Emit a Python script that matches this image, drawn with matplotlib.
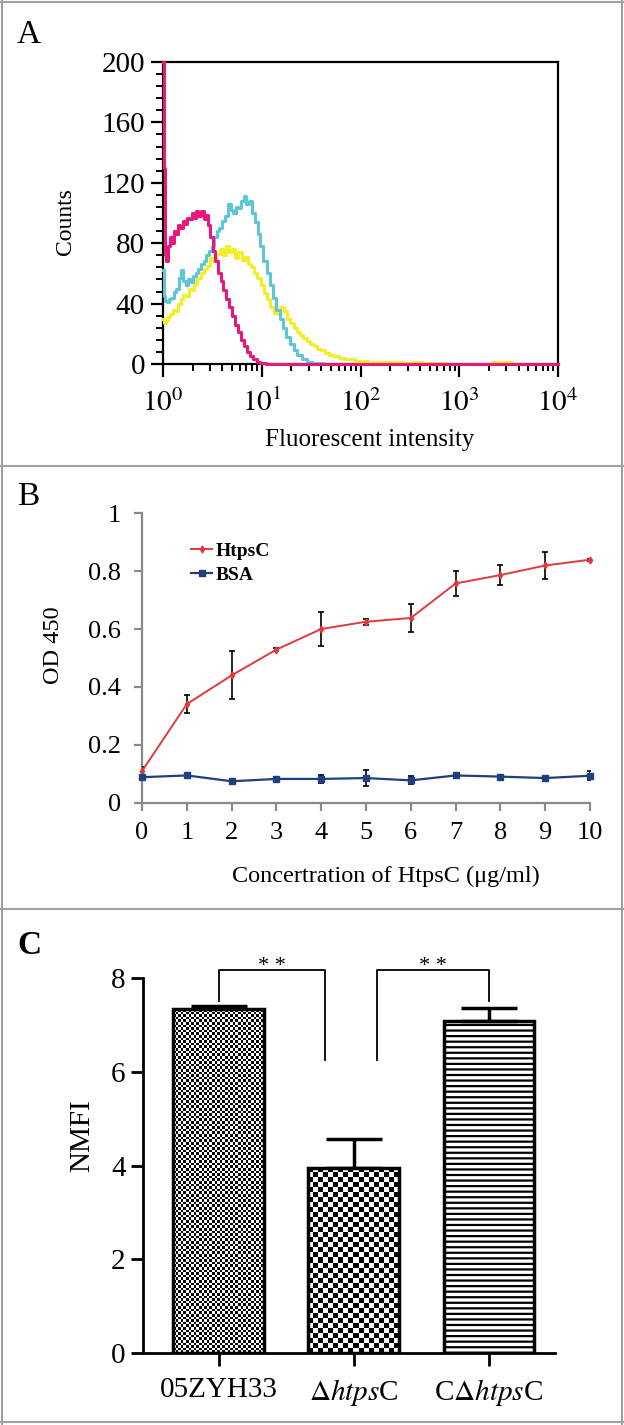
import numpy as np
import matplotlib
matplotlib.use("Agg")
import matplotlib.pyplot as plt
from matplotlib.ticker import MultipleLocator, LogLocator, NullFormatter, FuncFormatter
from matplotlib.lines import Line2D

plt.rcParams['font.family'] = ['Liberation Serif', 'DejaVu Serif']
plt.rcParams['mathtext.fontset'] = 'stix'
plt.rcParams['hatch.linewidth'] = 1.6

# ---- panel A: flow cytometry histograms ----
magenta_x = [1.0, 1.03, 1.06, 1.1, 1.15, 1.2, 1.26, 1.32, 1.39, 1.46, 1.54, 1.62, 1.7, 1.8, 1.9, 2.0,
             2.1, 2.2, 2.35, 2.5, 2.65, 2.8, 2.95, 3.1, 3.3, 3.5, 3.7, 3.95, 4.2, 4.5, 4.8, 5.1, 5.5,
             5.9, 6.3, 6.8, 7.3, 7.9, 8.5, 9.2, 10, 12, 20, 50, 100, 1000, 10000]
magenta_y = [200, 130, 72, 68, 78, 84, 80, 88, 86, 92, 90, 95, 93, 97, 96, 100, 97, 101, 98, 101, 96,
             99, 92, 84, 75, 68, 60, 55, 49, 43, 38, 32, 26, 21, 16, 12, 8, 5, 3, 1, 0.5, 0, 0, 0, 0, 0, 0]
cyan_x = [1.0, 1.03, 1.07, 1.12, 1.18, 1.25, 1.32, 1.4, 1.48, 1.56, 1.65, 1.75, 1.85, 1.96, 2.08, 2.2,
          2.35, 2.5, 2.65, 2.8, 3.0, 3.2, 3.4, 3.6, 3.85, 4.1, 4.4, 4.7, 5.0, 5.3, 5.6, 6.0, 6.4, 6.8,
          7.2, 7.7, 8.2, 8.8, 9.4, 10, 10.8, 11.6, 12.5, 13.5, 14.6, 15.8, 17, 18.5, 20, 22, 24, 27,
          30, 35, 50, 100, 10000]
cyan_y = [62, 45, 42, 41, 43, 44, 48, 50, 57, 62, 55, 52, 56, 54, 58, 60, 63, 66, 68, 72, 75, 78, 84,
          88, 90, 95, 98, 106, 102, 100, 104, 103, 108, 111, 106, 108, 100, 94, 86, 78, 68, 60, 52,
          44, 36, 30, 24, 18, 13, 9, 6, 3, 1.5, 0.5, 0, 0, 0]
yellow_x = [1.0, 1.04, 1.09, 1.15, 1.22, 1.3, 1.38, 1.47, 1.56, 1.66, 1.77, 1.88, 2.0, 2.15, 2.3, 2.5,
            2.7, 2.9, 3.1, 3.35, 3.6, 3.9, 4.2, 4.5, 4.85, 5.2, 5.6, 6.0, 6.5, 7.0, 7.5, 8.1, 8.7,
            9.4, 10.1, 10.9, 11.8, 12.7, 13.7, 14.8, 16, 17.3, 18.7, 20.2, 21.8, 23.5, 25.4, 27.4,
            29.6, 32, 35, 38, 42, 46, 51, 57, 64, 72, 82, 95, 110, 130, 160, 200, 250, 300, 380,
            450, 1000, 3300, 3500, 10000]
yellow_y = [30, 27, 29, 31, 33, 36, 35, 40, 43, 46, 45, 50, 49, 53, 57, 60, 63, 65, 70, 68, 73, 76, 72,
            78, 74, 76, 70, 74, 69, 71, 66, 64, 60, 57, 52, 47, 43, 38, 34, 33, 38, 35, 30, 27, 24,
            21, 19, 17, 15, 13, 12, 10, 9, 7, 6, 5, 4, 3, 3, 2, 2, 1.5, 1, 1, 1, 0.8, 1, 0.5, 0, 1,
            0, 0]

# ---- panel B: ELISA ----
conc = [0, 1, 2, 3, 4, 5, 6, 7, 8, 9, 10]
htpsc = [0.110, 0.341, 0.440, 0.529, 0.600, 0.625, 0.638, 0.757, 0.786, 0.819, 0.839]
htpsc_err = [0.015, 0.032, 0.083, 0.006, 0.058, 0.010, 0.048, 0.042, 0.033, 0.045, 0.003]
bsa = [0.089, 0.095, 0.075, 0.083, 0.083, 0.086, 0.078, 0.095, 0.091, 0.086, 0.094]
bsa_err = [0.005, 0.005, 0.004, 0.005, 0.013, 0.028, 0.014, 0.008, 0.004, 0.004, 0.015]

# ---- panel C: NMFI bars ----
strains = ['05ZYH33', r'$\Delta$$\it{htps}$C', r'C$\Delta$$\it{htps}$C']
nmfi = [7.33, 3.95, 7.08]
nmfi_err = [0.07, 0.61, 0.28]

W, H = 624, 1425
fig = plt.figure(figsize=(W / 100, H / 100), dpi=100)


def ax_at(l, t, r, b):
    return fig.add_axes([l / W, 1 - b / H, (r - l) / W, (b - t) / H])


# panel frames
for yy in [466, 909]:
    fig.add_artist(Line2D([0, 1], [1 - yy / H] * 2, color='#a0a0a0', lw=1.5))
fig.add_artist(Line2D([1.5 / W, 1.5 / W], [0, 1], color='#a0a0a0', lw=1.5))
fig.add_artist(Line2D([1 - 2 / W, 1 - 2 / W], [0, 1], color='#a0a0a0', lw=1.5))
fig.add_artist(Line2D([0, 1], [1 - 1.5 / H] * 2, color='#a0a0a0', lw=1.5))
fig.add_artist(Line2D([0, 1], [1 - 1422 / H] * 2, color='#a0a0a0', lw=1.5))

fig.text(17 / W, 1 - 35 / H, 'A', fontsize=24, va='center')
fig.text(17 / W, 1 - 497 / H, 'B', fontsize=24, va='center')
fig.text(17 / W, 1 - 946 / H, 'C', fontsize=24, va='center', fontweight='bold')

# ===== A =====
axA = ax_at(163, 62, 558, 364)
axA.plot(yellow_x, yellow_y, color='#f2ee2a', lw=2.2, drawstyle='steps-mid', clip_on=False, zorder=3)
axA.plot(cyan_x, cyan_y, color='#5ec6d8', lw=2.2, drawstyle='steps-mid', clip_on=False, zorder=3)
axA.plot(magenta_x, magenta_y, color='#e8197c', lw=2.2, drawstyle='steps-mid', clip_on=False, zorder=3)
axA.set_xscale('log')
axA.set_xlim(1, 1e4)
axA.set_ylim(0, 200)
axA.set_yticks([0, 40, 80, 120, 160, 200])
axA.yaxis.set_minor_locator(MultipleLocator(8))
axA.xaxis.set_major_locator(LogLocator(base=10, numticks=10))
axA.xaxis.set_minor_locator(LogLocator(base=10, subs=np.arange(2, 10), numticks=20))
axA.xaxis.set_minor_formatter(NullFormatter())
axA.xaxis.set_major_formatter(FuncFormatter(lambda v, p: r'$10^{%d}$' % round(np.log10(v))))
for s in axA.spines.values():
    s.set_linewidth(1.6)
axA.tick_params(which='major', direction='out', length=9, width=1.6, labelsize=21, pad=4)
axA.tick_params(axis='x', which='major', pad=9)
axA.tick_params(which='minor', direction='out', length=5, width=1.4)
axA.set_ylabel('Counts', fontsize=17)
axA.yaxis.set_label_coords(-0.22, 0.47)
axA.set_xlabel('Fluorescent intensity', fontsize=18)
axA.xaxis.set_label_coords(0.524, -0.215)

# ===== B =====
axB = ax_at(142, 513, 590, 803)
axB.errorbar(conc, htpsc, yerr=htpsc_err, fmt='none', ecolor='black', elinewidth=1.2, capsize=2.5, capthick=1.2, zorder=3)
axB.errorbar(conc, bsa, yerr=bsa_err, fmt='none', ecolor='black', elinewidth=1.2, capsize=2.5, capthick=1.2, zorder=3)
axB.plot(conc, htpsc, color='#e03a3e', lw=1.4, marker='d', ms=3.5, label='HtpsC', clip_on=False, zorder=4)
axB.plot(conc, bsa, color='#1f3f7d', lw=1.6, marker='s', ms=4, label='BSA', clip_on=False, zorder=4)
axB.set_xlim(0, 10)
axB.set_ylim(0, 1)
axB.set_xticks(conc)
axB.set_yticks([0, 0.2, 0.4, 0.6, 0.8, 1])
axB.set_yticklabels(['0', '0.2', '0.4', '0.6', '0.8', '1'])
axB.spines['top'].set_visible(False)
axB.spines['right'].set_visible(False)
for s in ['left', 'bottom']:
    axB.spines[s].set_color('#8a8a8a')
    axB.spines[s].set_linewidth(1.6)
axB.tick_params(direction='out', length=6, width=1.6, color='#8a8a8a', labelsize=19)
axB.tick_params(axis='x', pad=8)
axB.tick_params(axis='y', pad=9)
axB.set_ylabel('OD 450', fontsize=17.5)
axB.yaxis.set_label_coords(-0.174, 0.545)
axB.set_xlabel('Concertration of HtpsC (\u03bcg/ml)', fontsize=17.5)
axB.xaxis.set_label_coords(0.545, -0.215)
axB.legend(loc='upper left', bbox_to_anchor=(0.07, 0.96), frameon=False, handlelength=1.1,
           handletextpad=0.2, labelspacing=0.35, prop={'weight': 'bold', 'size': 14})

# ===== C =====
axC = ax_at(143, 978, 555, 1353)
xpos = np.arange(len(strains))
bars = axC.bar(xpos, nmfi, width=0.67, color='none', edgecolor='black', linewidth=2.5, zorder=2)
axC.errorbar(xpos, nmfi, yerr=[np.zeros(len(nmfi)), nmfi_err], fmt='none', ecolor='black',
             elinewidth=2.5, capsize=20, capthick=2.5, zorder=1)
axC.set_xlim(-0.56, 2.49)
axC.set_ylim(0, 8)

# fill textures: fine checker, coarse checker, horizontal lines
px_per_x = (555 - 143) / 3.05
px_per_y = (1353 - 978) / 8.0
for b, cell in [(bars[0], 2.6), (bars[1], 5.0)]:
    x0, w, h = b.get_x(), b.get_width(), b.get_height()
    nx = max(1, int(round(w * px_per_x / cell)))
    ny = max(1, int(round(h * px_per_y / cell)))
    board = (np.add.outer(np.arange(ny), np.arange(nx)) % 2).astype(float)
    im = axC.imshow(board, cmap='gray', extent=[x0, x0 + w, 0, h], aspect='auto',
                    interpolation='nearest', zorder=1.5, vmin=0, vmax=1)
    im.set_clip_path(b)
bars[2].set_hatch('---')
axC.set_xlim(-0.56, 2.49)
axC.set_ylim(0, 8)

axC.set_xticks(xpos)
axC.set_xticklabels(strains)
axC.set_yticks([0, 2, 4, 6, 8])
axC.spines['top'].set_visible(False)
axC.spines['right'].set_visible(False)
for s in ['left', 'bottom']:
    axC.spines[s].set_linewidth(2)
axC.tick_params(direction='out', length=9, width=2, labelsize=21)
axC.tick_params(axis='x', pad=8)
axC.set_ylabel('NMFI', fontsize=21)
axC.yaxis.set_label_coords(-0.117, 0.58)

# significance brackets
for (xa, ya, xb, yb) in [(0, 7.52, 0.79, 6.25), (1.17, 6.25, 2.0, 7.52)]:
    axC.plot([xa, xa, xb, xb], [ya, 8.17, 8.17, yb], color='black', lw=1.3, clip_on=False)
    axC.text((xa + xb) / 2, 8.05, '* *', ha='center', va='bottom', fontsize=16)

fig.savefig('out.png', dpi=100)
